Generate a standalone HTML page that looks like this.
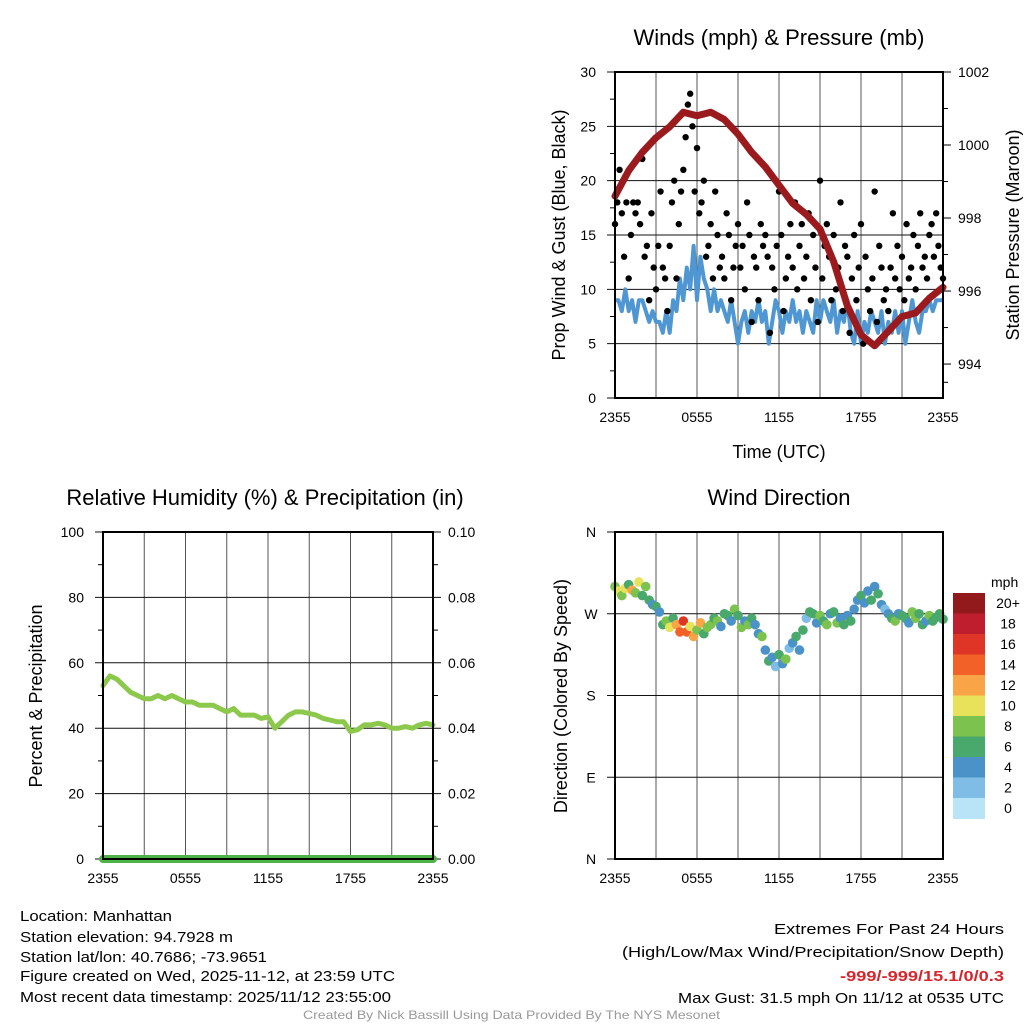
<!DOCTYPE html>
<html><head><meta charset="utf-8"><style>
html,body{margin:0;padding:0;background:#fff;}
svg{display:block;font-family:"Liberation Sans",sans-serif;}
</style></head><body>
<svg id="fig" width="1024" height="1024" viewBox="0 0 1024 1024" xmlns="http://www.w3.org/2000/svg">
<g id="g-wind"></g>
<g id="g-rh"></g>
<g id="g-dir"></g>
<g id="g-text">
<text x="20" y="921" font-size="15" textLength="152" lengthAdjust="spacingAndGlyphs">Location: Manhattan</text>
<text x="20" y="942" font-size="15" textLength="213" lengthAdjust="spacingAndGlyphs">Station elevation: 94.7928 m</text>
<text x="20" y="962" font-size="15" textLength="247" lengthAdjust="spacingAndGlyphs">Station lat/lon: 40.7686; -73.9651</text>
<text x="20" y="981" font-size="15" textLength="375" lengthAdjust="spacingAndGlyphs">Figure created on Wed, 2025-11-12, at 23:59 UTC</text>
<text x="20" y="1002" font-size="15" textLength="371" lengthAdjust="spacingAndGlyphs">Most recent data timestamp: 2025/11/12 23:55:00</text>
<text x="774" y="934" font-size="15" textLength="230" lengthAdjust="spacingAndGlyphs">Extremes For Past 24 Hours</text>
<text x="622" y="957" font-size="15" textLength="382" lengthAdjust="spacingAndGlyphs">(High/Low/Max Wind/Precipitation/Snow Depth)</text>
<text x="840" y="981" font-size="15" font-weight="bold" fill="#d7262e" textLength="164" lengthAdjust="spacingAndGlyphs">-999/-999/15.1/0/0.3</text>
<text x="678" y="1003" font-size="15" textLength="326" lengthAdjust="spacingAndGlyphs">Max Gust: 31.5 mph On 11/12 at 0535 UTC</text>
<text x="303" y="1019" font-size="12" fill="#999" textLength="417" lengthAdjust="spacingAndGlyphs">Created By Nick Bassill Using Data Provided By The NYS Mesonet</text>
</g>
</svg>
<script>
// ---------- data ----------
const timeLabels = ["2355","0555","1155","1755","2355"];
const windTicks = [0,5,10,15,20,25,30];
const pressTicks = [994,996,998,1000,1002];
const rhTicks = [0,20,40,60,80,100];
const precipTickLabels = ["0.00","0.02","0.04","0.06","0.08","0.10"];
const dirTickLabels = ["N","E","S","W","N"];
const speedBinLabels = ["20+","18","16","14","12","10","8","6","4","2","0"];
const speedBinColors = ["#921A1D","#BF1E2E","#DE3526","#F26228","#F9A547","#E8E15A","#7BC24E","#49A86B","#4B92C8","#80BDE6","#B9E4F8"];
// sustained wind, every 15 minutes
const windSpeed = [9,9,8,10, 8,9,7,9, 9,8,7,8, 7,7,6,8, 6,9,8,11, 9,12,10,14, 9,13,11,10, 8,10,8,9, 8,7,9,7, 5,7,8,6, 8,7,9,7, 8,5,7,9, 8,6,8,7, 9,7,8,6, 8,7,6,9, 7,9,8,7, 9,6,8,7, 9,6,5,8, 5,7,6,8, 7,6,8,5, 7,6,8,6, 8,5,7,9, 7,6,8,8, 9,8,9,9,9];
// gusts, every 10 minutes
const windGust = [16,18,21,17,13,18, 11,15,18,17,18,16, 22,13,14,9,17,12, 10,14,19,12,11,8, 14,18,20,11,16,19, 21,24,27,28,25,19, 23,17,18,20,13,14, 16,11,19,15,12,13, 11,17,15,9,12,14, 16,12,14,10,18,15, 7,13,12,9,16,14, 15,13,6,12,10,14, 19,15,8,11,13,16, 12,18,10,14,16,11, 13,17,9,15,12,7, 20,11,14,16,13,9, 15,10,12,18,8,14, 13,6,11,15,9,12, 16,5,13,10,8,11, 19,7,14,12,9,10, 8,12,17,11,14,10, 13,9,16,11,12,15, 10,14,17,12,13,11, 15,16,13,17,14,12,11];
// pressure hourly
const pressure = [998.6,999.3,999.8,1000.2,1000.5,1000.9,1000.8,1000.9,1000.7,1000.3,999.8,999.4,998.9,998.4,998.1,997.7,996.8,995.6,994.8,994.5,994.9,995.3,995.4,995.8,996.1];
// relative humidity, every 30 minutes
const rh = [53,56,55,53,51,50,49,49,50,49,50,49,48,48,47,47,47,46,45,46,44,44,44,43,43.5,40,42,44,45,45,44.5,44,43,42.5,42,42,39,39.5,41,41,41.5,41,40,40,40.5,40,41,41.5,41];
const precip = [0,0,0,0,0,0,0,0,0,0,0,0,0,0,0,0,0,0,0,0,0,0,0,0,0];
// wind direction (deg) & speed, every 15 minutes
const windDir = [300,295,290,298, 302,296,293,305, 290,300,285,280, 278,272,258,262, 255,265,258,250, 262,250,256,245, 252,260,248,255, 258,265,262,256, 270,268,262,275, 268,255,262,258, 265,258,248,245, 230,218,222,212, 225,215,220,232, 238,245,230,252, 265,272,270,260, 268,262,258,270, 272,260,265,258, 268,262,275,285, 290,282,295,285, 300,292,280,275, 270,265,262,270, 268,265,260,272, 265,270,258,262, 268,262,266,270,264];
const dirSpeed = [9,11,8,10, 7,12,8,10, 6,8,7,5, 6,5,7,9, 10,7,12,14, 16,14,10,12, 8,12,6,9, 9,7,8,5, 7,6,5,8, 6,9,4,8, 6,5,4,8, 4,6,5,3, 6,4,8,3, 5,6,4,7, 3,6,7,5, 8,6,9,4, 7,8,5,6, 4,7,5,4, 6,5,4,7, 4,6,5,3, 5,6,8,4, 6,7,5,8, 9,6,7,4, 8,6,7,7,6];

// ---------- helpers ----------
const NS="http://www.w3.org/2000/svg";
function mk(parent,tag,attrs,txt){const e=document.createElementNS(NS,tag);for(const k in attrs)e.setAttribute(k,attrs[k]);if(txt!==undefined)e.textContent=txt;parent.appendChild(e);return e;}
function lin(d0,d1,r0,r1){return v=>r0+(v-d0)/(d1-d0)*(r1-r0);}

function frame(g,L,R,T,B,name){
  for(let h=3;h<24;h+=3){const x=L+(R-L)*h/24;
    const ln=mk(g,'line',{x1:x,x2:x,y1:T,y2:B,stroke:'#555','stroke-width':1});
    
    }
  timeLabels.forEach((t,i)=>{const x=L+(R-L)*i/4;
    const tx=mk(g,'text',{x:x,y:B+24,'font-size':14,'text-anchor':'middle'},t);
    
    });
}
function border(g,L,R,T,B,name){
  const r=mk(g,'rect',{x:L,y:T,width:R-L,height:B-T,fill:'none',stroke:'#000','stroke-width':2});
  
  
}
function title(g,x,y,t,name,size,rot){
  const a={x:x,y:y,'font-size':size,'text-anchor':'middle'};
  if(rot) a.transform='rotate('+rot+' '+x+' '+y+')';
  const e=mk(g,'text',a,t);
  
  
}

// ---------- wind panel ----------
(function(){
 const g=document.getElementById('g-wind');
 const L=615,R=943,T=72,B=398;
 const xh=lin(0,24,L,R), yw=lin(0,30,B,T), yp=lin(1002,993.07,T,B);
 frame(g,L,R,T,B,'wind');
 windTicks.forEach(v=>{const y=yw(v);
   const ln=mk(g,'line',{x1:L-8,x2:R,y1:y,y2:y,stroke:'#111','stroke-width':1});
   
   
   const t=mk(g,'text',{x:596,y:y+5,'font-size':14,'text-anchor':'end'},String(v));
   
   
   if(v<30){const m=yw(v+2.5);mk(g,'line',{x1:L-5,x2:L,y1:m,y2:m,stroke:'#000'});}
 });
 pressTicks.forEach(v=>{const y=yp(v);
   mk(g,'line',{x1:R,x2:R+8,y1:y,y2:y,stroke:'#000'});
   if(v<1002){const m=yp(v+1);mk(g,'line',{x1:R,x2:R+5,y1:m,y2:m,stroke:'#000'});}
   const t=mk(g,'text',{x:958,y:y+5,'font-size':14},String(v));
   
   });
 mk(g,'line',{x1:R,x2:R+5,y1:yp(993.5),y2:yp(993.5),stroke:'#000'});
 const sp=windSpeed.map((v,i)=>xh(i*24/(windSpeed.length-1)).toFixed(1)+','+yw(v).toFixed(1)).join(' ');
 const wl=mk(g,'polyline',{points:sp,fill:'none',stroke:'#4f97d2','stroke-width':4,'stroke-linejoin':'round'});
 
 
 windGust.forEach((v,i)=>{
   const c=mk(g,'circle',{cx:xh(i*24/(windGust.length-1)),cy:yw(v),r:3.2,fill:'#000'});
   
   });
 const pp=pressure.map((v,i)=>xh(i*24/(pressure.length-1)).toFixed(1)+','+yp(v).toFixed(1)).join(' ');
 const pl=mk(g,'polyline',{points:pp,fill:'none',stroke:'#9b1a1d','stroke-width':7,'stroke-linejoin':'round','stroke-linecap':'round'});
 
 
 border(g,L,R,T,B,'wind');
 title(g,779,45,'Winds (mph) & Pressure (mb)','wind-title',22);
 title(g,779,458,'Time (UTC)','wind-x-axis-title',18);
 title(g,565,235,'Prop Wind & Gust (Blue, Black)','wind-y-axis-title',18,-90);
 title(g,1019,235,'Station Pressure (Maroon)','pressure-y-axis-title',18,-90);
})();

// ---------- RH panel ----------
(function(){
 const g=document.getElementById('g-rh');
 const L=103,R=433,T=532,B=859;
 const xh=lin(0,24,L,R), yr=lin(0,100,B,T), yq=lin(0,0.1,B,T);
 frame(g,L,R,T,B,'rh');
 rhTicks.forEach((v,i)=>{const y=yr(v);
   const ln=mk(g,'line',{x1:L-8,x2:R+8,y1:y,y2:y,stroke:'#111','stroke-width':1});
   
   
   const t=mk(g,'text',{x:84,y:y+5,'font-size':14,'text-anchor':'end'},String(v));
   
   
   const t2=mk(g,'text',{x:448,y:y+5,'font-size':14},precipTickLabels[i]);
   
   
   if(v<100){const m=yr(v+10);mk(g,'line',{x1:L-5,x2:L,y1:m,y2:m,stroke:'#000'});mk(g,'line',{x1:R,x2:R+5,y1:m,y2:m,stroke:'#000'});}
 });
 const pp=precip.map((v,i)=>xh(i*24/(precip.length-1)).toFixed(1)+','+yq(v).toFixed(1)).join(' ');
 const pl=mk(g,'polyline',{points:pp,fill:'none',stroke:'#4db348','stroke-width':8,'stroke-linecap':'round'});
 
 
 const rp=rh.map((v,i)=>xh(i*24/(rh.length-1)).toFixed(1)+','+yr(v).toFixed(1)).join(' ');
 const rl=mk(g,'polyline',{points:rp,fill:'none',stroke:'#8cc84b','stroke-width':5,'stroke-linejoin':'round','stroke-linecap':'round'});
 
 
 border(g,L,R,T,B,'rh');
 title(g,265,505,'Relative Humidity (%) & Precipitation (in)','rh-title',22);
 title(g,42,696,'Percent & Precipitation','rh-y-axis-title',18,-90);
})();

// ---------- wind direction panel ----------
(function(){
 const g=document.getElementById('g-dir');
 const L=615,R=943,T=532,B=859;
 const xh=lin(0,24,L,R), yd=lin(0,360,B,T);
 frame(g,L,R,T,B,'dir');
 dirTickLabels.forEach((s,i)=>{const y=yd(i*90);
   const ln=mk(g,'line',{x1:L-8,x2:R,y1:y,y2:y,stroke:'#111','stroke-width':1});
   
   
   const t=mk(g,'text',{x:591,y:y+5,'font-size':14,'text-anchor':'middle'},s);
   
   });
 windDir.forEach((d,i)=>{
   const bin=Math.min(10,Math.floor(dirSpeed[i]/2));
   const c=mk(g,'circle',{cx:xh(i*24/(windDir.length-1)),cy:yd(d),r:4.8,fill:speedBinColors[10-bin]});
   
   });
 border(g,L,R,T,B,'dir');
 title(g,779,505,'Wind Direction','dir-title',22);
 title(g,567,696,'Direction (Colored By Speed)','dir-y-axis-title',18,-90);
 const cb=mk(g,'g',{});
 
 
 const t0=mk(cb,'text',{x:991,y:587,'font-size':14},'mph');
 
 
 speedBinLabels.forEach((s,i)=>{const y=593+i*20.5;
   const r=mk(cb,'rect',{x:953,y:y,width:32,height:21,fill:speedBinColors[i]});
   
   
   const t=mk(cb,'text',{x:1008,y:y+15,'font-size':14,'text-anchor':'middle'},s);
   
   });
})();
</script>
</body></html>
